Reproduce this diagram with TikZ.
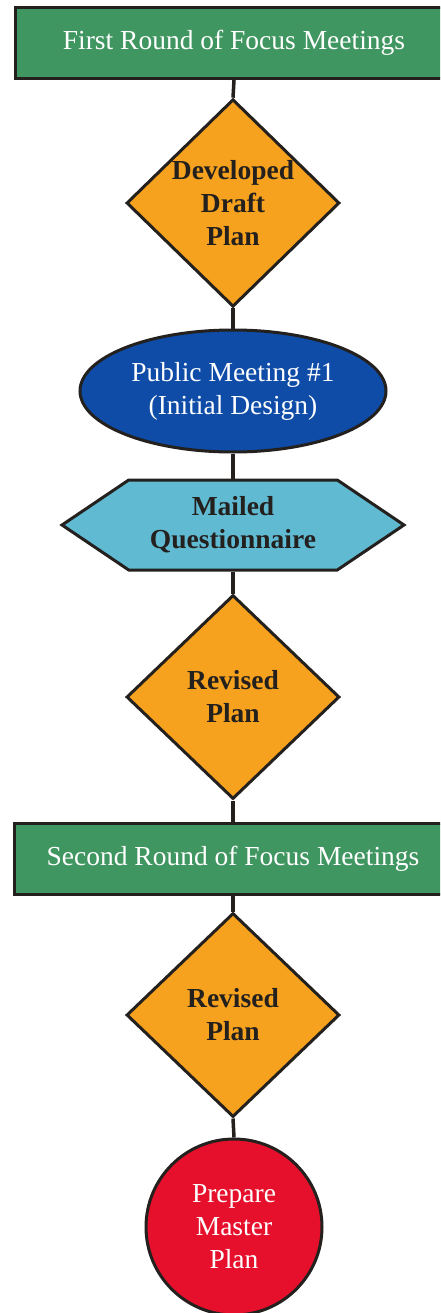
\documentclass[tikz,border=0pt]{standalone}
\usepackage{fontspec}
\setmainfont{Liberation Serif}
\usetikzlibrary{shapes.geometric, shapes.symbols}

\definecolor{focusgreen}{RGB}{64,150,96}
\definecolor{planorange}{RGB}{247,162,30}
\definecolor{meetblue}{RGB}{14,76,168}
\definecolor{mailblue}{RGB}{96,186,210}
\definecolor{masterred}{RGB}{230,16,44}
\definecolor{edgeblack}{RGB}{35,32,30}

\newcommand{\flowfont}{\fontsize{27.5}{33}\selectfont}

\tikzset{
  roundbox/.style={rectangle, draw=edgeblack, line width=3pt, fill=focusgreen,
    text=white, minimum width=438pt, minimum height=71pt, inner sep=0pt},
  planbox/.style={diamond, draw=edgeblack, line width=3pt, fill=planorange,
    text=edgeblack, font=\flowfont\bfseries, align=center, inner sep=0pt,
    minimum width=213pt, minimum height=204pt},
  link/.style={draw=edgeblack, line width=3.5pt}
}

\begin{document}
\begin{tikzpicture}[x=1pt, y=-1pt, font=\flowfont]
            \clip (0,0) rectangle (440,1313);
            % Boxes and shapes
            \node at (234,43) [roundbox] (first) {First Round of Focus Meetings};
            \node at (233,203) [planbox] (draft) {Developed\\Draft\\Plan};
            \node at (233,391) [ellipse, draw=edgeblack, line width=3pt, fill=meetblue, text=white, align=center, minimum width=306pt, minimum height=122pt, inner sep=0pt] (public) {Public Meeting \#1\\(Initial Design)};
            \node at (233,525) [signal, signal to=east and west, signal pointer angle=68, draw=edgeblack, line width=3pt, fill=mailblue, text=edgeblack, font=\flowfont\bfseries, align=center, minimum width=342pt, minimum height=90pt, inner sep=0pt] (mailed) {Mailed\\Questionnaire};
            \node at (233,697) [planbox] (revA) {Revised\\Plan};
            \node at (233,859) [roundbox] (second) {Second Round of Focus Meetings};
            \node at (233,1015) [planbox] (revB) {Revised\\Plan};
            \node at (234,1227) [circle, draw=edgeblack, line width=3pt, fill=masterred, text=white, align=center, minimum size=176pt, inner sep=0pt] (master) {Prepare\\Master\\Plan};
            
            % Connectors
            \draw[link] (first.south) -- (draft.north);
            \draw[link] (draft.south) -- (public.north);
            \draw[link] (public.south) -- (mailed.north);
            \draw[link] (mailed.south) -- (revA.north);
            \draw[link] (revA.south) -- (second.north);
            \draw[link] (second.south) -- (revB.north);
            \draw[link] (revB.south) -- (master.north);
            
            \end{tikzpicture}
\end{document}
